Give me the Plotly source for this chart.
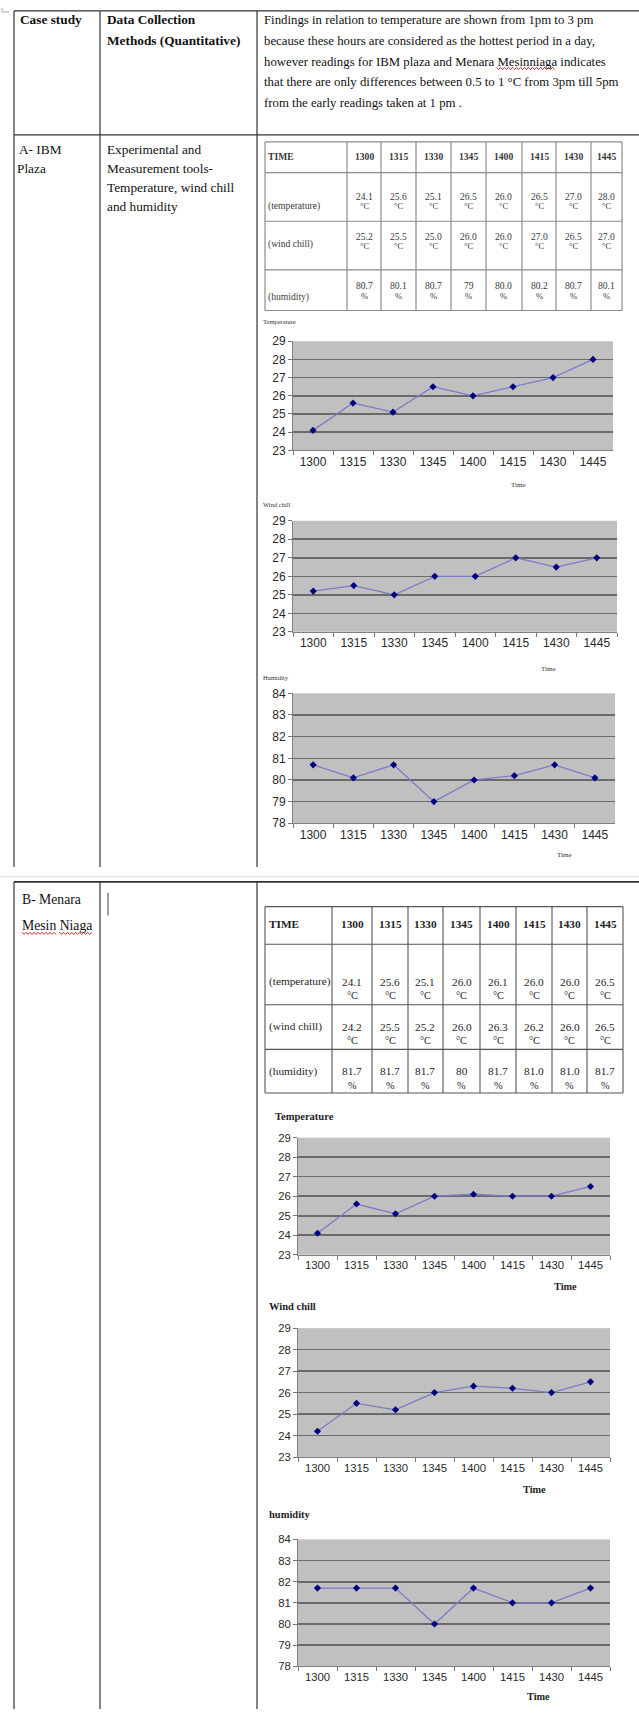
import plotly.graph_objects as go

# ---------------- data ----------------
times = ["1300", "1315", "1330", "1345", "1400", "1415", "1430", "1445"]

a_temp = [24.1, 25.6, 25.1, 26.5, 26.0, 26.5, 27.0, 28.0]
a_wind = [25.2, 25.5, 25.0, 26.0, 26.0, 27.0, 26.5, 27.0]
a_hum = [80.7, 80.1, 80.7, 79, 80.0, 80.2, 80.7, 80.1]

b_temp = [24.1, 25.6, 25.1, 26.0, 26.1, 26.0, 26.0, 26.5]
b_wind = [24.2, 25.5, 25.2, 26.0, 26.3, 26.2, 26.0, 26.5]
b_hum = [81.7, 81.7, 81.7, 80, 81.7, 81.0, 81.0, 81.7]

row_labels = ["(temperature)", "(wind chill)", "(humidity)"]
row_units = ["°C", "°C", "%"]

header_cols = ["Case study", "Data Collection", "Methods (Quantitative)"]
findings_lines = [
    "Findings in relation to temperature are shown from 1pm to 3 pm",
    "because these hours are considered as the hottest period in a day,",
    "however readings for IBM plaza and Menara Mesinniaga indicates",
    "that there are only differences between 0.5 to 1 °C from 3pm till 5pm",
    "from the early readings taken at 1 pm .",
]
case_a = ["A- IBM", "Plaza"]
method_a = ["Experimental and", "Measurement tools-", "Temperature, wind chill", "and humidity"]
case_b = ["B- Menara", "Mesin Niaga"]

# ---------------- layout helpers ----------------
W, H = 639, 1714
SERIF = "Liberation Serif, Times New Roman, serif"
SANS = "Liberation Sans, Arial, sans-serif"
shapes, annotations = [], []


def px(x):
    return x / W


def py(y):
    return 1 - y / H


def line(x0, y0, x1, y1, color="#333", width=1.2):
    shapes.append(dict(type="line", xref="paper", yref="paper",
                       x0=px(x0), y0=py(y0), x1=px(x1), y1=py(y1),
                       line=dict(color=color, width=width)))


def text(x, y, s, size, color="#111", bold=False, xanchor="left", family=SERIF):
    annotations.append(dict(xref="paper", yref="paper", x=px(x), y=py(y),
                            text=("<b>%s</b>" % s) if bold else s,
                            showarrow=False, xanchor=xanchor, yanchor="middle",
                            borderpad=0, font=dict(family=family, size=size, color=color)))


def wavy(x0, x1, y, color="#d03030"):
    pts = []
    x = x0
    k = 0
    while x <= x1:
        pts.append((x, y + (1.1 if k % 2 else -1.1)))
        x += 2
        k += 1
    path = "M " + " L ".join("%f,%f" % (px(a), py(b)) for a, b in pts)
    shapes.append(dict(type="path", xref="paper", yref="paper", path=path,
                       line=dict(color=color, width=1)))


def fmt(v):
    return str(v) if isinstance(v, int) else "%.1f" % v


FS = 13.3      # left-hand cells
FF = 12.8      # findings text
C1, C2, C3 = 14, 100, 257
HB = 129       # header bottom border
T0 = 13        # first header text line
RA = 144       # first text line of row A

# tiny mark top-left
line(2, 5, 9, 5, "#aaa", 1)
line(2, 1, 2, 5, "#aaa", 1)

# ---------------- outer table A ----------------
line(C1, 4, W + 2, 4)
line(C1, HB, W + 2, HB)
for cx in (C1, C2, C3):
    line(cx, 4, cx, 867)
line(0, 877, W, 877, "#dcdcdc", 1)

text(19, T0, header_cols[0], FS, "#111", True)
text(106, T0, header_cols[1], FS, "#111", True)
text(106, T0 + 21, header_cols[2], FS, "#111", True)
for i, s in enumerate(findings_lines):
    text(263, T0 + 21 * i, s, FF, "#111")
# red spell-check underline under "Mesinniaga"
x_start = 263 + 18.244 * FF
wavy(x_start, x_start + 4.666 * FF, T0 + 21 * 2 + 7)

text(18, RA, case_a[0], FS)
text(16, RA + 19, case_a[1], FS)
for i, s in enumerate(method_a):
    text(106, RA + 19 * i, s, FS)

# ---------------- outer table B ----------------
line(C1, 882, W + 2, 882, "#333", 1.8)
for cx in (C1, C2, C3):
    line(cx, 882, cx, H + 2)
text(21, 900, case_b[0], FS + 0.4)
text(21, 926, case_b[1], FS + 0.4)
wavy(22, 22 + 2.5 * (FS + 0.4), 934)
wavy(22 + 2.75 * (FS + 0.4), 22 + 5.14 * (FS + 0.4), 934)
line(108, 893, 108, 916, "#444", 1)


# ---------------- inner data tables ----------------
def data_table(cols, rows, series, lab_x, time_y, val_ys, lab_ys, size, color, lcolor, lwidth):
    x_left, x_right = cols[0], cols[-1]
    for ry in rows:
        line(x_left, ry, x_right, ry, lcolor, lwidth)
    for cx in cols:
        line(cx, rows[0], cx, rows[-1], lcolor, lwidth)
    text(lab_x, time_y, "TIME", size, color, True)
    centers = [(cols[i + 1] + cols[i + 2]) / 2 for i in range(len(times))]
    for cxm, t in zip(centers, times):
        text(cxm, time_y, t, size, color, True, "center")
    for r, vals in enumerate(series):
        text(lab_x, lab_ys[r], row_labels[r], size, color)
        vy1, vy2 = val_ys[r]
        for cxm, v in zip(centers, vals):
            text(cxm, vy1, fmt(v), size, color, False, "center")
            text(cxm, vy2, row_units[r], size - 1, color, False, "center")


data_table([265, 347, 381, 416, 451, 486, 522, 556, 591, 622],
           [136, 167, 216, 265, 306],
           [a_temp, a_wind, a_hum], 267, 151,
           [(191, 201), (231, 241), (281, 291)], [201, 239, 292],
           9.6, "#3a3a3a", "#8c8c8c", 1.2)

data_table([265, 332, 372, 408, 443, 480, 516, 552, 587, 623],
           [907, 945, 1006, 1051, 1095],
           [b_temp, b_wind, b_hum], 268, 925,
           [(983, 997), (1028, 1042), (1073, 1087)], [983, 1028, 1073],
           11.3, "#1e1e1e", "#555", 1.1)

# ---------------- charts ----------------
charts = [
    # series, left, right, top, bottom, yrange, title, title_xy, time_xy, small
    (a_temp, 293, 613, 337, 447, (23, 29), "Temperature", (262, 317), (510, 482), True),
    (a_wind, 293, 617, 518, 630, (23, 29), "Wind chill", (262, 502), (540, 667), True),
    (a_hum, 293, 615, 692, 823, (78, 84), "Humidity", (262, 676), (556, 855), True),
    (b_temp, 298, 610, 1140, 1258, (23, 29), "Temperature", (274, 1119), (553, 1290), False),
    (b_wind, 298, 610, 1332, 1462, (23, 29), "Wind chill", (268, 1310), (522, 1495), False),
    (b_hum, 298, 610, 1545, 1673, (78, 84), "humidity", (268, 1520), (526, 1703), False),
]

fig = go.Figure()
layout_axes = {}
for i, (vals, l, r, t, b, yr, title, txy, tixy, small) in enumerate(charts):
    n = "" if i == 0 else str(i + 1)
    fig.add_trace(go.Scatter(
        x=times, y=vals, xaxis="x" + n, yaxis="y" + n, mode="lines+markers",
        line=dict(color="#7c7cc6", width=1.3),
        marker=dict(symbol="diamond", size=5.5, color="#000080"),
        showlegend=False, hoverinfo="skip"))
    tick_font = dict(family=SANS, size=12 if small else 11.3, color="#2a2a2a")
    layout_axes["xaxis" + n] = dict(
        domain=[px(l), px(r)], anchor="y" + n, type="category",
        range=[-0.5, len(times) - 0.5], tickson="boundaries", ticks="outside",
        ticklen=4, tickcolor="#777", showline=True, linecolor="#808080",
        linewidth=1, showgrid=False, tickfont=tick_font, fixedrange=True)
    layout_axes["yaxis" + n] = dict(
        domain=[py(b), py(t)], anchor="x" + n, range=list(yr), dtick=1,
        ticks="outside", ticklen=4, tickcolor="#777", showline=True,
        linecolor="#808080", linewidth=1, showgrid=True, gridcolor="#6a6a6a",
        gridwidth=1.6, zeroline=False, tickfont=tick_font, fixedrange=True)
    if small:
        text(txy[0], txy[1], title, 6.5, "#333")
        text(tixy[0], tixy[1], "Time", 7, "#333")
    else:
        text(txy[0], txy[1], title, 10.5, "#1e1e1e", True)
        text(tixy[0], tixy[1], "Time", 10.3, "#1e1e1e", True)

fig.update_layout(
    width=W, height=H, margin=dict(l=0, r=0, t=0, b=0),
    paper_bgcolor="white", plot_bgcolor="#c0c0c0",
    shapes=shapes, annotations=annotations, showlegend=False,
    **layout_axes)

fig.write_html("out.html", config={"displayModeBar": False, "staticPlot": True},
               post_script="document.body.style.margin='0px';document.body.style.overflow='hidden';")
